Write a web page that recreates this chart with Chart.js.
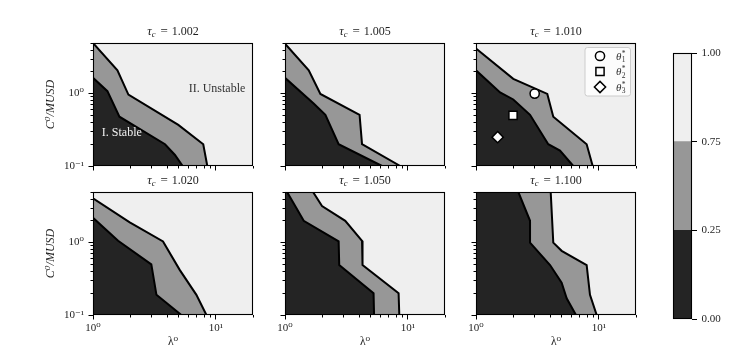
<!DOCTYPE html>
<html><head><meta charset="utf-8">
<script src="https://cdn.jsdelivr.net/npm/chart.js@4/dist/chart.umd.min.js"></script>
<style>
html,body{margin:0;padding:0;background:#fff;}
#wrap{position:relative;width:748px;height:355px;overflow:hidden;background:#fff;}
#wrap canvas{position:absolute;left:0;top:0;}
</style></head>
<body><div id="wrap"></div>
<script>
// ---------- data ----------
const tauValues = ['1.002', '1.005', '1.010', '1.020', '1.050', '1.100'];
const lambdaLimits = [1, 20];
const costLimits = [0.1, 5];
const lambdaMajorTicks = [1, 10];
const lambdaMinorTicks = [2, 3, 4, 5, 6, 7, 8, 9, 20];
const costMajorTicks = [0.1, 1];
const costMinorTicks = [0.2, 0.3, 0.4, 0.5, 0.6, 0.7, 0.8, 0.9, 2, 3, 4, 5];
const majorTickText = { '0.1': '10⁻¹', '1': '10⁰', '10': '10¹' };

// contour of level 0.25 (edge of "I. Stable") and 0.75 (edge of "II. Unstable"), as [lambda0, C0/MUSD]
const lowerContour_1002 = [[1, 1.65], [1.31, 1.08], [1.64, 0.48], [3.85, 0.2], [4.64, 0.142], [5.36, 0.1]];
const upperContour_1002 = [[1, 5], [1.58, 2.1], [1.94, 0.97], [4.94, 0.37], [7.88, 0.2], [8.5, 0.1]];
const lowerContour_1005 = [[1, 1.65], [1.71, 0.73], [2.13, 0.51], [2.73, 0.2], [6.15, 0.1]];
const upperContour_1005 = [[1, 4.9], [1.56, 2.1], [1.94, 0.99], [4.04, 0.51], [4.23, 0.2], [8.66, 0.1]];
const lowerContour_1010 = [[1, 2.1], [1.57, 1.04], [2.01, 0.83], [2.75, 0.51], [3.87, 0.2], [4.82, 0.163], [6.18, 0.1]];
const upperContour_1010 = [[1, 4.2], [2.01, 1.6], [3.8, 0.99], [4.25, 0.48], [7.94, 0.2], [8.89, 0.1]];
const lowerContour_1020 = [[1, 2.2], [1.6, 1.06], [2.98, 0.5], [3.28, 0.19], [5.23, 0.1]];
const upperContour_1020 = [[1, 4.1], [1.99, 1.9], [3.71, 1.04], [5.07, 0.42], [6.93, 0.19], [8.36, 0.1]];
const lowerContour_1050 = [[1, 5], [1.04, 5], [1.42, 2.0], [2.73, 1.04], [2.76, 0.49], [5.25, 0.2], [5.3, 0.1]];
const upperContour_1050 = [[1, 5], [1.69, 5], [2.0, 3.2], [3.09, 2.0], [4.23, 1.06], [4.27, 0.49], [8.39, 0.2], [8.5, 0.1]];
const lowerContour_1100 = [[1, 5], [2.21, 5], [2.75, 2.0], [2.75, 1.0], [4.0, 0.49], [4.97, 0.28], [5.46, 0.17], [6.5, 0.1]];
const upperContour_1100 = [[1, 5], [4.05, 5], [4.25, 1.0], [4.97, 0.77], [7.94, 0.49], [8.45, 0.19], [9.58, 0.1]];

const lowerContours = [lowerContour_1002, lowerContour_1005, lowerContour_1010, lowerContour_1020, lowerContour_1050, lowerContour_1100];
const upperContours = [upperContour_1002, upperContour_1005, upperContour_1010, upperContour_1020, upperContour_1050, upperContour_1100];

// optimal points shown on the tau_c = 1.010 panel
const thetaNames = ['1', '2', '3'];
const theta1Point = [[3.0, 1.0]];
const theta2Point = [[2.0, 0.5]];
const theta3Point = [[1.5, 0.25]];

// region names on the first panel
const regionNames = ['II. Unstable', 'I. Stable'];
const regionAnchors = [[6.0, 1.15], [1.18, 0.29]];

// colorbar
const levelTickLabels = ['0.00', '0.25', '0.75', '1.00'];
const levelBands = [[0, 1], [1, 2], [2, 3]];

// ---------- style ----------
const SERIF = '"Liberation Serif", "DejaVu Serif", serif';
const DARK = '#242424', GRAY = '#979797', LIGHT = '#efefef';
const INK = '#1e1e1e';
const BAND_COLORS = [DARK, GRAY, LIGHT];
const colLeft = [93, 285, 476], colRight = [253, 445, 636];
const rowTop = [43, 192], rowBottom = [166, 315];
const YW = 50, XH = 34;

Chart.defaults.font.family = SERIF;
Chart.defaults.color = INK;

const wrap = document.getElementById('wrap');
function newCanvas() {
  const cv = document.createElement('canvas');
  cv.width = 748; cv.height = 355;
  wrap.appendChild(cv);
  return cv;
}
function zeroPad(s) { s.paddingLeft = 0; s.paddingRight = 0; s.paddingTop = 0; s.paddingBottom = 0; }

const framePlugin = {
  id: 'frame',
  afterDatasetsDraw(chart) {
    const a = chart.chartArea, c = chart.ctx;
    c.save();
    c.strokeStyle = '#000'; c.lineWidth = 1.1;
    c.strokeRect(a.left + 0.5, a.top + 0.5, a.right - a.left - 1, a.bottom - a.top - 1);
    c.restore();
  }
};

const titlePlugin = {
  id: 'panelTitle',
  afterDraw(chart, args, opts) {
    if (!opts || !opts.value) return;
    const c = chart.ctx, a = chart.chartArea;
    const parts = [
      { t: 'τ', f: 'italic 12.5px ' + SERIF, dy: 0, gap: 0 },
      { t: 'c', f: 'italic 8.5px ' + SERIF, dy: 2.5, gap: 5 },
      { t: '=', f: '13px ' + SERIF, dy: 0, gap: 4 },
      { t: opts.value, f: '12px ' + SERIF, dy: 0, gap: 0 }
    ];
    c.save();
    c.fillStyle = INK; c.textBaseline = 'alphabetic'; c.textAlign = 'left';
    let w = 0;
    parts.forEach(p => { c.font = p.f; p.w = c.measureText(p.t).width; w += p.w + p.gap; });
    let x = (a.left + a.right) / 2 - w / 2;
    const y = a.top - 8.5;
    parts.forEach(p => { c.font = p.f; c.fillText(p.t, x, y + p.dy); x += p.w + p.gap; });
    c.restore();
  }
};

const notesPlugin = {
  id: 'notes',
  afterDatasetsDraw(chart, args, opts) {
    if (!opts || !opts.items) return;
    const c = chart.ctx;
    c.save();
    c.font = '12px ' + SERIF; c.textAlign = 'left'; c.textBaseline = 'middle';
    opts.items.forEach(n => {
      c.fillStyle = n.color;
      c.fillText(n.text, chart.scales.x.getPixelForValue(n.at[0]), chart.scales.y.getPixelForValue(n.at[1]));
    });
    c.restore();
  }
};

function drawMarker(c, style, r, x, y) {
  if (Chart.helpers && Chart.helpers.drawPoint) {
    Chart.helpers.drawPoint(c, { pointStyle: style, radius: r, borderWidth: c.lineWidth, rotation: 0 }, x, y);
    return;
  }
  c.beginPath();
  if (style === 'circle') c.arc(x, y, r, 0, Math.PI * 2);
  else if (style === 'rect') { const s = r * Math.SQRT1_2; c.rect(x - s, y - s, 2 * s, 2 * s); }
  else { c.moveTo(x - r, y); c.lineTo(x, y - r); c.lineTo(x + r, y); c.lineTo(x, y + r); c.closePath(); }
  c.fill(); c.stroke();
}

const legendPlugin = {
  id: 'thetaLegend',
  afterDatasetsDraw(chart, args, opts) {
    if (!opts || !opts.show) return;
    const c = chart.ctx, a = chart.chartArea;
    const bx = a.right - 51, by = a.top + 4.5, bw = 45.5, bh = 48.5, rr = 2.5;
    c.save();
    c.beginPath();
    c.moveTo(bx + rr, by); c.lineTo(bx + bw - rr, by); c.quadraticCurveTo(bx + bw, by, bx + bw, by + rr);
    c.lineTo(bx + bw, by + bh - rr); c.quadraticCurveTo(bx + bw, by + bh, bx + bw - rr, by + bh);
    c.lineTo(bx + rr, by + bh); c.quadraticCurveTo(bx, by + bh, bx, by + bh - rr);
    c.lineTo(bx, by + rr); c.quadraticCurveTo(bx, by, bx + rr, by); c.closePath();
    c.fillStyle = 'rgba(255,255,255,0.8)'; c.fill();
    c.strokeStyle = '#cccccc'; c.lineWidth = 1; c.stroke();
    const entries = chart.data.datasets.filter(d => d.thetaIndex !== undefined);
    entries.forEach((d, i) => {
      const y = by + 8.5 + i * 15.5;
      const x = bx + 15;
      c.fillStyle = '#fff'; c.strokeStyle = '#000'; c.lineWidth = 1.5;
      drawMarker(c, d.pointStyle, d.pointRadius, x, y);
      const tx = bx + 31;
      c.fillStyle = '#333';
      c.textAlign = 'left'; c.textBaseline = 'alphabetic';
      c.font = 'italic 11px ' + SERIF;
      c.fillText('θ', tx, y + 3.5);
      const w = c.measureText('θ').width;
      c.font = '7.5px ' + SERIF;
      c.fillText(thetaNames[d.thetaIndex], tx + w + 0.3, y + 6);
      c.fillText('*', tx + w + 0.3, y - 0.5);
    });
    c.restore();
  }
};

function axisPair(dir, idx, showLabels) {
  const isX = dir === 'x';
  const lims = isX ? lambdaLimits : costLimits;
  const majors = isX ? lambdaMajorTicks : costMajorTicks;
  const minors = isX ? lambdaMinorTicks : costMinorTicks;
  const major = {
    type: 'logarithmic', position: isX ? 'bottom' : 'left', weight: 1,
    min: lims[0], max: lims[1],
    afterBuildTicks: s => { s.ticks = majors.map(v => ({ value: v, major: true })); },
    afterFit: s => { if (isX) s.height = XH; else s.width = YW; zeroPad(s); },
    border: { display: false },
    grid: { drawOnChartArea: false, drawTicks: true, tickLength: 4.5, tickColor: '#000', tickWidth: 1 },
    ticks: {
      display: showLabels, autoSkip: false, maxRotation: 0, padding: isX ? 2 : 4.5,
      color: INK, font: { family: SERIF, size: 11 },
      callback: v => majorTickText[String(v)] || ''
    },
    title: {
      display: showLabels, text: isX ? 'λ⁰' : 'C⁰/MUSD', color: INK, padding: isX ? 0 : 1,
      font: { family: SERIF, size: isX ? 11.5 : 12, style: isX ? 'normal' : 'italic' }
    }
  };
  const minor = {
    type: 'logarithmic', position: isX ? 'bottom' : 'left', weight: 0,
    min: lims[0], max: lims[1],
    afterBuildTicks: s => { s.ticks = minors.map(v => ({ value: v })); },
    afterFit: s => { if (isX) s.height = 0; else s.width = 0; zeroPad(s); },
    border: { display: false },
    grid: { drawOnChartArea: false, drawTicks: true, tickLength: 2.5, tickColor: '#000', tickWidth: 1 },
    ticks: { display: false, autoSkip: false }
  };
  return [major, minor];
}

function makePanel(idx) {
  const col = idx % 3, row = Math.floor(idx / 3);
  const L = colLeft[col], R = colRight[col], T = rowTop[row], B = rowBottom[row];
  const [xMaj, xMin] = axisPair('x', idx, row === 1);
  const [yMaj, yMin] = axisPair('y', idx, col === 0);
  const datasets = [
    { label: 'II. Unstable', data: [[lambdaLimits[0], costLimits[1]], [lambdaLimits[1], costLimits[1]]],
      showLine: true, fill: 'start', backgroundColor: LIGHT, borderColor: 'transparent', borderWidth: 0, pointRadius: 0, order: 5 },
    { label: 'level 0.75', data: upperContours[idx], showLine: true, fill: 'start',
      backgroundColor: GRAY, borderColor: '#000', borderWidth: 2, pointRadius: 0, order: 4 },
    { label: 'I. Stable', data: lowerContours[idx], showLine: true, fill: 'start',
      backgroundColor: DARK, borderColor: '#000', borderWidth: 2, pointRadius: 0, order: 3 }
  ];
  if (idx === 2) {
    [[theta1Point, 'circle', 4.6], [theta2Point, 'rect', 5.8], [theta3Point, 'rectRot', 5.6]].forEach((m, i) => {
      datasets.push({ label: 'θ' + thetaNames[i] + '*', thetaIndex: i, data: m[0], showLine: false,
        pointStyle: m[1], pointRadius: m[2], pointBackgroundColor: '#fff', pointBorderColor: '#000',
        pointBorderWidth: 1.5, order: 0, clip: false });
    });
  }
  const notes = idx === 0 ? [
    { text: regionNames[0], at: regionAnchors[0], color: '#333333' },
    { text: regionNames[1], at: regionAnchors[1], color: '#f2f2f2' }
  ] : [];
  new Chart(newCanvas(), {
    type: 'scatter',
    data: { datasets },
    options: {
      responsive: false, animation: false, devicePixelRatio: 1, events: [],
      layout: { padding: { left: L - YW, right: 748 - R, top: T, bottom: 355 - B - XH } },
      elements: { line: { tension: 0, borderJoinStyle: 'miter' } },
      plugins: {
        legend: { display: false }, tooltip: { enabled: false }, title: { display: false },
        panelTitle: { value: tauValues[idx] },
        notes: { items: notes },
        thetaLegend: { show: idx === 2 }
      },
      scales: { x: xMaj, xm: xMin, y: yMaj, ym: yMin }
    },
    plugins: [framePlugin, notesPlugin, legendPlugin, titlePlugin]
  });
}

for (let i = 0; i < tauValues.length; i++) makePanel(i);

// ---------- colorbar ----------
const cbL = 673, cbR = 692, cbT = 53, cbB = 319, cbAxisW = 40;
new Chart(newCanvas(), {
  type: 'bar',
  data: {
    labels: ['level'],
    datasets: levelBands.map((b, i) => ({
      label: levelTickLabels[i] + '–' + levelTickLabels[i + 1], data: [b],
      backgroundColor: BAND_COLORS[i], borderWidth: 0, barPercentage: 1, categoryPercentage: 1, grouped: false
    }))
  },
  options: {
    responsive: false, animation: false, devicePixelRatio: 1, events: [],
    layout: { padding: { left: cbL, top: cbT, right: 748 - cbR - cbAxisW, bottom: 355 - cbB } },
    plugins: { legend: { display: false }, tooltip: { enabled: false } },
    scales: {
      x: { display: false },
      y: {
        position: 'right', min: 0, max: levelTickLabels.length - 1,
        afterBuildTicks: s => { s.ticks = levelTickLabels.map((t, i) => ({ value: i })); },
        afterFit: s => { s.width = cbAxisW; zeroPad(s); },
        border: { display: false },
        grid: { drawOnChartArea: false, tickLength: 5, tickColor: '#000' },
        ticks: { padding: 4.5, color: INK, font: { family: SERIF, size: 11 }, autoSkip: false,
          callback: (v, i) => levelTickLabels[i] }
      }
    }
  },
  plugins: [framePlugin]
});
</script>
</body></html>
